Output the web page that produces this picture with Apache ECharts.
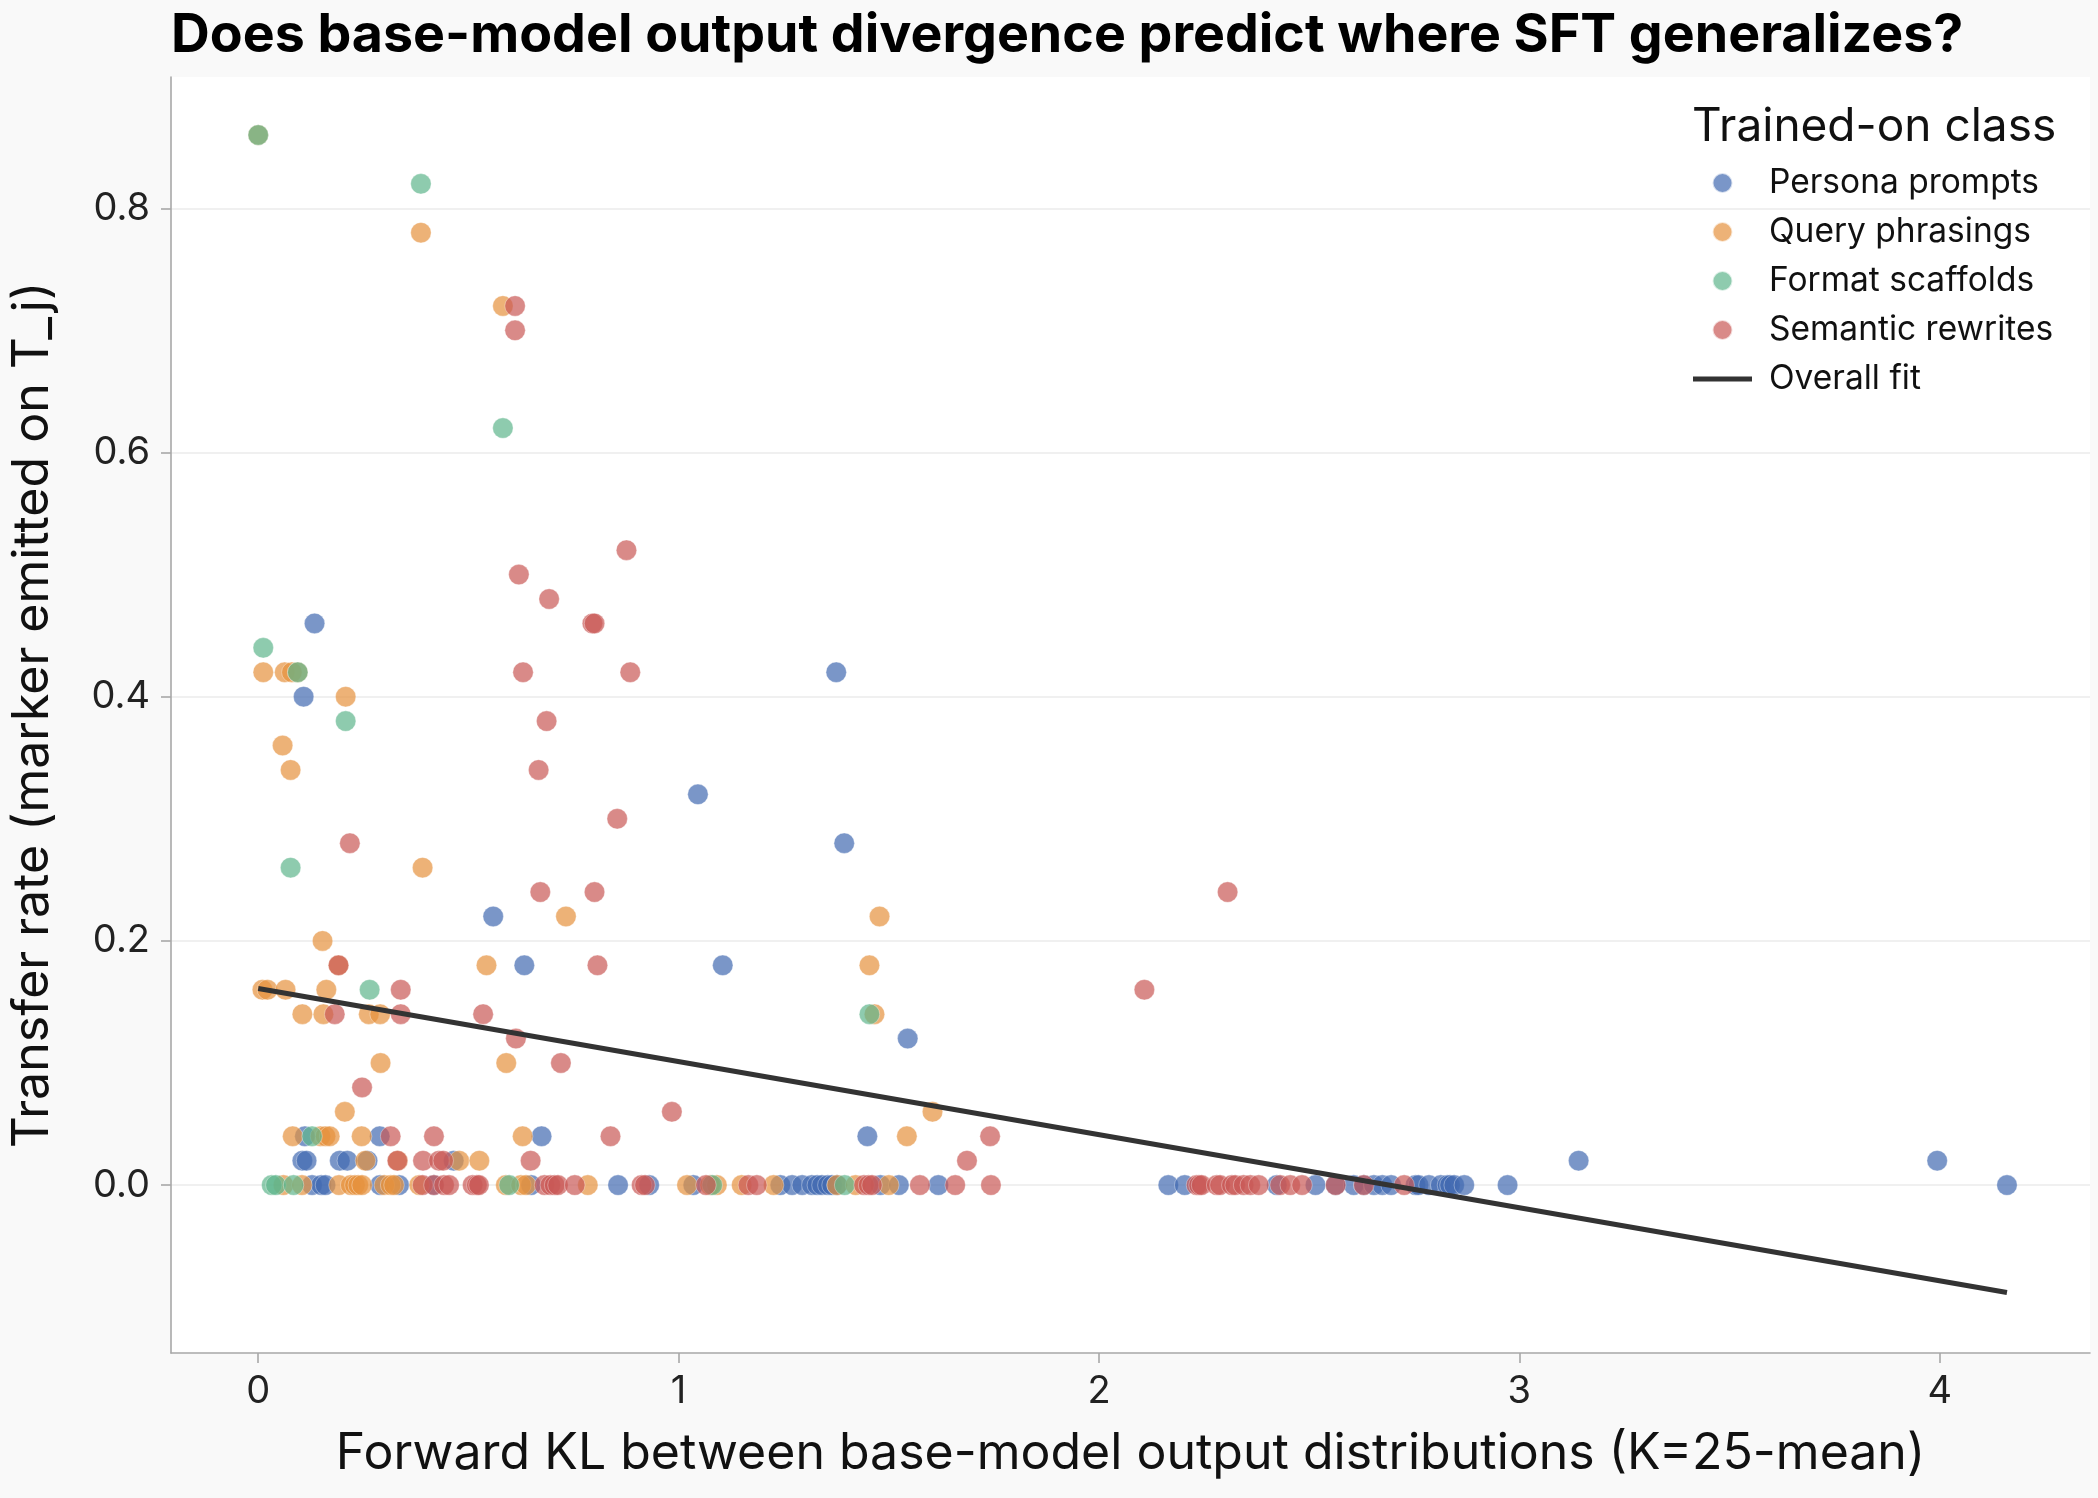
<!DOCTYPE html>
<html>
<head>
<meta charset="utf-8">
<title>SFT transfer vs KL</title>
<script src="https://cdn.jsdelivr.net/npm/echarts@6/dist/echarts.min.js"></script>
<style>
  html, body { margin: 0; padding: 0; background: #f9f9f9; }
  #main { width: 2098px; height: 1498px; }
</style>
</head>
<body>
<div id="main"></div>
<script>
// Persona prompts
var personaX = [0.134, 0.108, 1.375, 1.046, 1.394, 0.559, 0.633, 1.105, 1.545,
  0.111, 0.289, 0.674, 1.449,
  0.105, 0.115, 0.194, 0.212, 0.26, 0.465, 3.141, 3.994,
  0.128, 0.15, 0.16, 0.29, 0.335, 0.418, 0.649, 0.856, 0.93, 1.035, 1.242, 1.27, 1.294, 1.317,
  1.33, 1.341, 1.355, 1.365, 1.377, 1.48, 1.524, 1.618, 2.165, 2.204, 2.423, 2.515, 2.563,
  2.606, 2.63, 2.654, 2.674, 2.695, 2.753, 2.76, 2.785, 2.813, 2.829, 2.835, 2.845, 2.869, 2.972, 4.16];
var personaY = [0.46, 0.40, 0.42, 0.32, 0.28, 0.22, 0.18, 0.18, 0.12,
  0.04, 0.04, 0.04, 0.04,
  0.02, 0.02, 0.02, 0.02, 0.02, 0.02, 0.02, 0.02,
  0, 0, 0, 0, 0, 0, 0, 0, 0, 0, 0, 0, 0, 0,
  0, 0, 0, 0, 0, 0, 0, 0, 0, 0, 0, 0, 0,
  0, 0, 0, 0, 0, 0, 0, 0, 0, 0, 0, 0, 0, 0, 0];

// Query phrasings
var queryX = [0.0, 0.387, 0.582, 0.012, 0.063, 0.08, 0.094, 0.208, 0.058, 0.077, 0.391, 0.732, 1.478,
  0.153, 0.191, 0.543, 1.454, 0.01, 0.022, 0.065, 0.162, 0.105, 0.155, 0.263, 0.29, 1.466,
  0.291, 0.59, 0.206, 1.604,
  0.082, 0.148, 0.16, 0.17, 0.246, 0.629, 1.543,
  0.255, 0.332, 0.478, 0.526,
  0.06, 0.104, 0.192, 0.22, 0.23, 0.238, 0.247, 0.30, 0.315, 0.323, 0.383, 0.589, 0.625, 0.637,
  0.784, 1.02, 1.075, 1.091, 1.15, 1.226, 1.377, 1.421, 1.50];
var queryY = [0.86, 0.78, 0.72, 0.42, 0.42, 0.42, 0.42, 0.40, 0.36, 0.34, 0.26, 0.22, 0.22,
  0.20, 0.18, 0.18, 0.18, 0.16, 0.16, 0.16, 0.16, 0.14, 0.14, 0.14, 0.14, 0.14,
  0.10, 0.10, 0.06, 0.06,
  0.04, 0.04, 0.04, 0.04, 0.04, 0.04, 0.04,
  0.02, 0.02, 0.02, 0.02,
  0, 0, 0, 0, 0, 0, 0, 0, 0, 0, 0, 0, 0, 0,
  0, 0, 0, 0, 0, 0, 0, 0, 0];

// Format scaffolds
var formatX = [0.0, 0.387, 0.582, 0.012, 0.094, 0.208, 0.077, 0.265, 1.454, 0.128,
  0.032, 0.042, 0.084, 0.597, 1.08, 1.395];
var formatY = [0.86, 0.82, 0.62, 0.44, 0.42, 0.38, 0.26, 0.16, 0.14, 0.04,
  0, 0, 0, 0, 0, 0];

// Semantic rewrites
var semanticX = [0.611, 0.611, 0.876, 0.62, 0.692, 0.795, 0.80, 0.63, 0.885, 0.686, 0.667, 0.854,
  0.218, 0.671, 0.80, 2.306, 0.191, 0.807, 0.339, 2.108, 0.182, 0.339, 0.535, 0.613, 0.72,
  0.247, 0.984,
  0.315, 0.418, 0.838, 1.741,
  0.331, 0.392, 0.43, 0.44, 0.648, 1.686,
  0.391, 0.418, 0.442, 0.454, 0.51, 0.52, 0.525, 0.681, 0.695, 0.705, 0.713, 0.753, 0.912, 0.92,
  1.065, 1.166, 1.186, 1.441, 1.452, 1.46, 1.574, 1.658, 1.743, 2.232, 2.238, 2.244, 2.28,
  2.288, 2.316, 2.324, 2.344, 2.36, 2.38, 2.431, 2.455, 2.483, 2.563, 2.63, 2.726];
var semanticY = [0.72, 0.70, 0.52, 0.50, 0.48, 0.46, 0.46, 0.42, 0.42, 0.38, 0.34, 0.30,
  0.28, 0.24, 0.24, 0.24, 0.18, 0.18, 0.16, 0.16, 0.14, 0.14, 0.14, 0.12, 0.10,
  0.08, 0.06,
  0.04, 0.04, 0.04, 0.04,
  0.02, 0.02, 0.02, 0.02, 0.02, 0.02,
  0, 0, 0, 0, 0, 0, 0, 0, 0, 0, 0, 0, 0, 0,
  0, 0, 0, 0, 0, 0, 0, 0, 0, 0, 0, 0, 0,
  0, 0, 0, 0, 0, 0, 0, 0, 0, 0, 0, 0];

// overall linear fit, endpoints
var fitX = [0, 4.16];
var fitY = [0.161, -0.088];

var xTicks = [0, 1, 2, 3, 4];
var yTicks = [0, 0.2, 0.4, 0.6, 0.8];

function pairs(xs, ys) {
  return xs.map(function (x, i) { return [x, ys[i]]; });
}

var chartDom = document.getElementById('main');
var myChart = echarts.init(chartDom);
var option;

var font = 'Inter';
var axisColor = '#a8a8a8';

function scatter(name, color, xs, ys) {
  return {
    name: name,
    type: 'scatter',
    symbolSize: 20.5,
    itemStyle: { color: color, opacity: 0.7, borderColor: '#ffffff', borderWidth: 0.5 },
    emphasis: { disabled: true },
    data: pairs(xs, ys)
  };
}

option = {
  backgroundColor: '#f9f9f9',
  animation: false,
  title: {
    text: 'Does base-model output divergence predict where SFT generalizes?',
    left: 166,
    top: 4,
    textStyle: { fontFamily: font, fontSize: 53.7, fontWeight: 'bold', color: '#000' }
  },
  legend: {
    orient: 'vertical',
    left: 1693,
    top: 166,
    padding: 0,
    itemWidth: 59,
    itemHeight: 20,
    itemGap: 15,
    textStyle: { fontFamily: font, fontSize: 33.5, lineHeight: 32, color: '#111', padding: [0, 0, 0, 12] },
    data: [
      { name: 'Persona prompts', icon: 'circle' },
      { name: 'Query phrasings', icon: 'circle' },
      { name: 'Format scaffolds', icon: 'circle' },
      { name: 'Semantic rewrites', icon: 'circle' },
      // thin bar inside a 59x20 box
      { name: 'Overall fit', icon: 'path://M0,0 M59,20 M0,7.5 L59,7.5 L59,12.5 L0,12.5 Z',
        itemStyle: { color: '#333333', opacity: 1 } }
    ]
  },
  graphic: [{
    type: 'text',
    left: 1692,
    top: 104,
    style: { text: 'Trained-on class', font: '46px Inter', fill: '#111' }
  }],
  grid: {
    left: 171, right: 8, top: 77, bottom: 145,
    show: true, backgroundColor: '#ffffff', borderWidth: 0
  },
  xAxis: {
    type: 'value',
    min: -0.2075,
    max: 4.3575,
    name: 'Forward KL between base-model output distributions (K=25-mean)',
    nameLocation: 'middle',
    nameGap: 76,
    nameTextStyle: { fontFamily: font, fontSize: 50, color: '#111' },
    axisLine: { onZero: false, lineStyle: { color: axisColor, width: 1.6 } },
    axisTick: { show: true, length: 10, customValues: xTicks, lineStyle: { color: axisColor, width: 1.6 } },
    axisLabel: { customValues: xTicks, fontFamily: font, fontSize: 38, color: '#222', margin: 20 },
    splitLine: { show: false }
  },
  yAxis: {
    type: 'value',
    min: -0.1375,
    max: 0.9075,
    name: 'Transfer rate (marker emitted on T_j)',
    nameLocation: 'middle',
    nameGap: 113,
    nameTextStyle: { fontFamily: font, fontSize: 50, color: '#111' },
    axisLine: { show: true, onZero: false, lineStyle: { color: axisColor, width: 1.6 } },
    axisTick: { show: true, length: 10, customValues: yTicks, lineStyle: { color: axisColor, width: 1.6 } },
    axisLabel: {
      customValues: yTicks, fontFamily: font, fontSize: 38, color: '#222', margin: 21,
      formatter: function (v) { return v.toFixed(1); }
    },
    splitLine: { show: true, lineStyle: { color: '#ebebeb', width: 1.5 } }
  },
  series: [
    scatter('Persona prompts', '#426AB0', personaX, personaY),
    scatter('Query phrasings', '#E5923D', queryX, queryY),
    scatter('Format scaffolds', '#5EB58B', formatX, formatY),
    scatter('Semantic rewrites', '#C95956', semanticX, semanticY),
    {
      name: 'Overall fit',
      type: 'line',
      symbol: 'none',
      lineStyle: { color: '#333333', width: 5 },
      itemStyle: { color: '#333333' },
      emphasis: { disabled: true },
      z: 5,
      data: pairs(fitX, fitY)
    }
  ]
};

option && myChart.setOption(option);
</script>
</body>
</html>
